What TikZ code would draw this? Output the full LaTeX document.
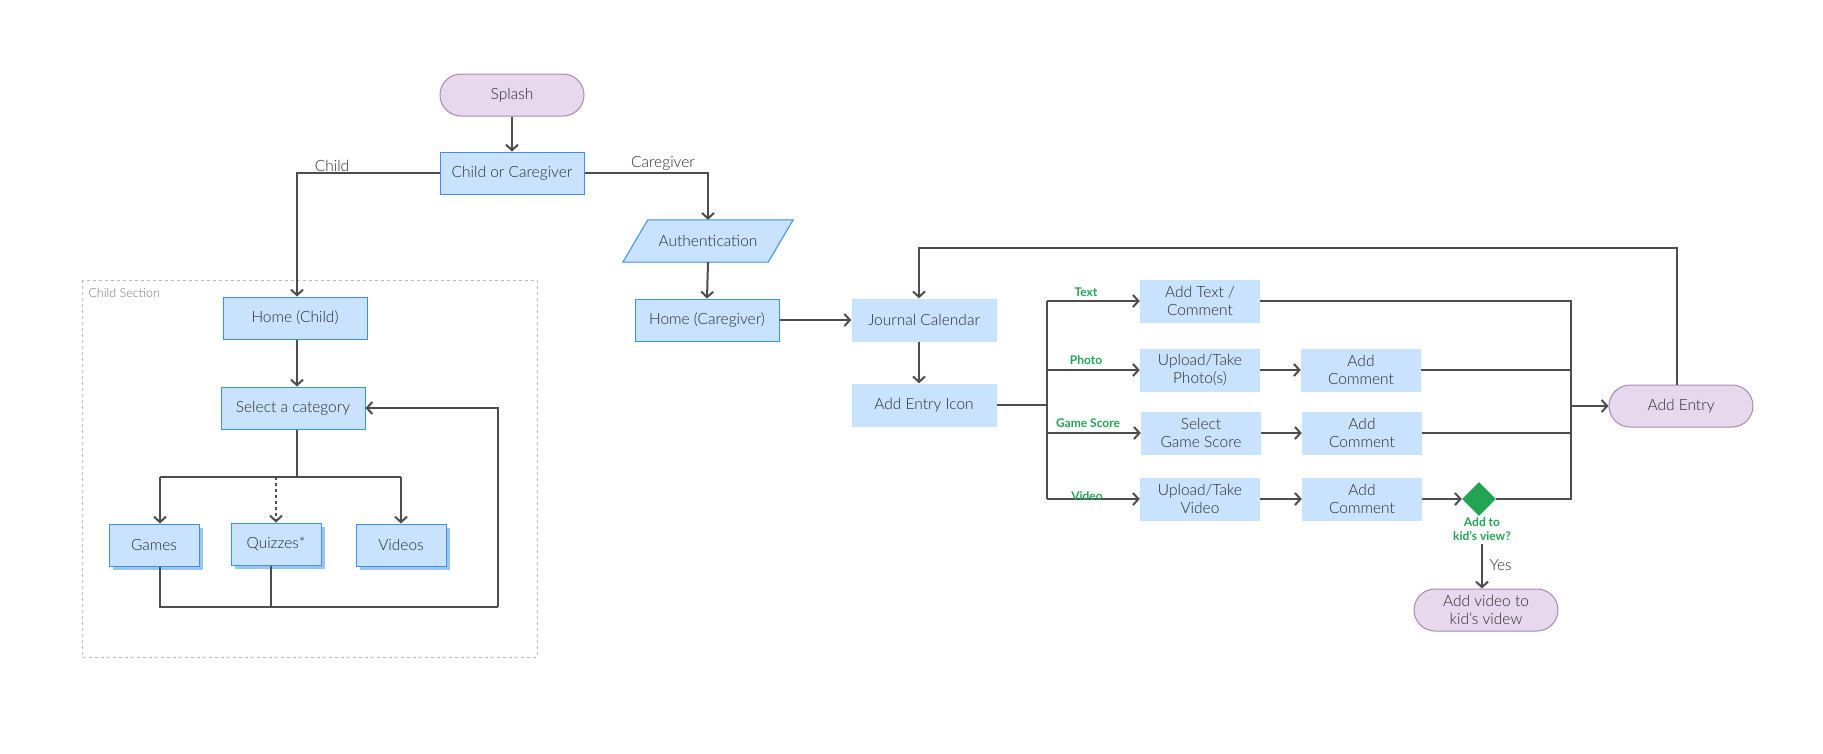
\documentclass[tikz,border=0pt]{standalone}
\usepackage{fontspec}
\setmainfont{Lato Light}[BoldFont={Lato Bold}]
\usetikzlibrary{arrows.meta,shapes.geometric,shadows}
\definecolor{boxfill}{HTML}{C9E2FD}
\definecolor{boxline}{HTML}{3D8FE8}
\definecolor{termfill}{HTML}{E7D8EE}
\definecolor{termline}{HTML}{A68BB0}
\definecolor{lnc}{HTML}{4D4D4D}
\definecolor{grn}{HTML}{23A455}
\definecolor{shad}{HTML}{9DC3EF}
\definecolor{dashc}{HTML}{BBBBBB}
\definecolor{txt}{HTML}{2B2B2B}
\newcommand{\fsmain}{\fontsize{15.5}{18.5}\selectfont}
\newcommand{\fsgreen}{\fontsize{12}{13.5}\selectfont\bfseries}
\tikzset{
  box/.style={draw=boxline, fill=boxfill, line width=1pt, minimum width=144pt, minimum height=42pt, inner sep=0pt, font=\fsmain, text=txt, align=center},
  pbox/.style={fill=boxfill, draw=none, minimum width=120pt, minimum height=43pt, inner sep=0pt, font=\fsmain, text=txt, align=center},
  term/.style={draw=termline, fill=termfill, line width=1pt, rounded corners=21pt, minimum width=144pt, minimum height=42pt, inner sep=0pt, font=\fsmain, text=txt, align=center},
  catbox/.style={box, minimum width=90pt, drop shadow={shadow xshift=4pt, shadow yshift=-4pt, fill=shad, opacity=1}},
  ln/.style={draw=lnc, line width=2pt},
  arr/.style={ln, -{Straight Barb[length=5.5pt,width=12pt]}},
  glabel/.style={font=\fsgreen, text=grn, align=center},
  llabel/.style={font=\fsmain, text=txt}
}
\begin{document}
\begin{tikzpicture}[x=1pt,y=-1pt]
\fill[white] (0,0) rectangle (1823,753);
\useasboundingbox (0,0) rectangle (1823,753);

% child section frame
\draw[dashc, dashed, line width=1pt] (82,280) rectangle (537,657);
\node[anchor=west, font=\fontsize{12.5}{14}\selectfont, text=black!55] (csec) at (85,293) {Child Section};

% top nodes
\node[term] (splash) at (512,95) {Splash};
\node[box] (coc) at (512,173) {Child or Caregiver};
\node[minimum width=145pt, minimum height=42pt, inner sep=0pt] (auth) at (708,241) {};
\draw[draw=boxline, fill=boxfill, line width=1pt]
  ([xshift=-12.5pt]auth.south west) -- ([xshift=12.5pt]auth.north west) -- ([xshift=12.5pt]auth.north east) -- ([xshift=-12.5pt]auth.south east) -- cycle;
\node[font=\fsmain, text=txt] (authtext) at (auth) {Authentication};
\node[box] (homec) at (707,320) {Home (Caregiver)};

% child nodes
\node[box] (homech) at (295,318) {Home (Child)};
\node[box] (sel) at (293,408) {Select a category};
\node[catbox] (games) at (154,545) {Games};
\node[catbox] (quiz) at (276,544) {Quizzes*};
\node[catbox] (vids) at (401,545) {Videos};

% caregiver flow
\node[pbox, minimum width=145pt] (jc) at (924,320) {Journal Calendar};
\node[pbox, minimum width=145pt] (aei) at (924,405) {Add Entry Icon};
\node[pbox] (addtext) at (1200,301) {Add Text /\\Comment};
\node[pbox] (photo) at (1200,370) {Upload/Take\\Photo(s)};
\node[pbox] (gscore) at (1201,433) {Select\\Game Score};
\node[pbox] (uvid) at (1200,499) {Upload/Take\\Video};
\node[pbox] (ac1) at (1361,370) {Add\\Comment};
\node[pbox] (ac2) at (1362,433) {Add\\Comment};
\node[pbox] (ac3) at (1362,499) {Add\\Comment};
\node[term] (addentry) at (1681,406) {Add Entry};
\node[diamond, aspect=1, fill=grn, minimum width=34pt, minimum height=34pt, inner sep=0pt] (dec) at (1479,499) {};
\node[glabel] (declab) at (1482,529) {Add to\\kid’s view?};
\node[term] (addvid) at (1486,610) {Add video to\\kid’s videw};

% coordinates
\coordinate (bx) at (1047,405);
\coordinate (rb) at (1571,406);
\coordinate (loopL) at (498,607);

% connectors top
\draw[arr] (splash) -- (coc);
\draw[arr] (coc.east) -| (auth.north);
\node[llabel] (lcare) at (663,163) {Caregiver};
\draw[arr] (auth.south) -- (homec.north);
\draw[arr] (coc.west) -| ([xshift=2pt]homech.north);
\node[llabel] (lchild) at (332,166) {Child};

% child section connectors
\draw[arr] ([xshift=2pt]homech.south) -- ([xshift=4pt]sel.north);
\draw[ln] ([xshift=4pt]sel.south) -- ++(0,48) coordinate (bus);
\draw[ln] (160,477) -- (401,477);
\draw[arr] (160,477) -- ([xshift=6pt]games.north);
\draw[arr, dashed] (276,477) -- (quiz.north);
\draw[arr] (401,477) -- (vids.north);
\draw[ln] ([xshift=6pt]games.south) -- (160,607) -- (loopL);
\draw[ln] ([xshift=-5pt]quiz.south) -- (271,607);
\draw[arr] (loopL) |- (sel.east);

% caregiver connectors
\draw[arr] (homec.east) -- (jc.west);
\draw[arr] ([xshift=-5pt]jc.south) -- ([xshift=-5pt]aei.north);
\draw[ln] (aei.east) -- (bx);
\draw[ln] (bx |- addtext.west) -- (bx |- uvid.west);
\draw[arr] (bx |- addtext.west) -- (addtext.west);
\draw[arr] (bx |- photo.west) -- (photo.west);
\draw[arr] (bx |- gscore.west) -- (gscore.west);
\draw[arr] (bx |- uvid.west) -- (uvid.west);
\node[glabel] (lt) at (1086,292) {Text};
\node[glabel] (lp) at (1086,360) {Photo};
\node[glabel] (lg) at (1088,423) {Game Score};
\node[glabel] (lv) at (1087,496) {Video};

\draw[arr] (photo.east) -- (ac1.west);
\draw[arr] (gscore.east) -- (ac2.west);
\draw[arr] (uvid.east) -- (ac3.west);
\draw[arr] (ac3.east) -- (dec.west);

\draw[ln] (addtext.east) -| (rb |- dec.east) -- (dec.east);
\draw[ln] (ac1.east) -- (rb |- ac1.east);
\draw[ln] (ac2.east) -- (rb |- ac2.east);
\draw[arr] (rb) -- (addentry.west);
\draw[arr] ([xshift=-4pt]addentry.north) -- ++(0,-137) -| ([xshift=-5pt]jc.north);

\draw[arr] (declab.south) -- (declab.south |- addvid.north);
\node[llabel, anchor=west] (lyes) at (1486,565) {Yes};
\end{tikzpicture}
\end{document}
